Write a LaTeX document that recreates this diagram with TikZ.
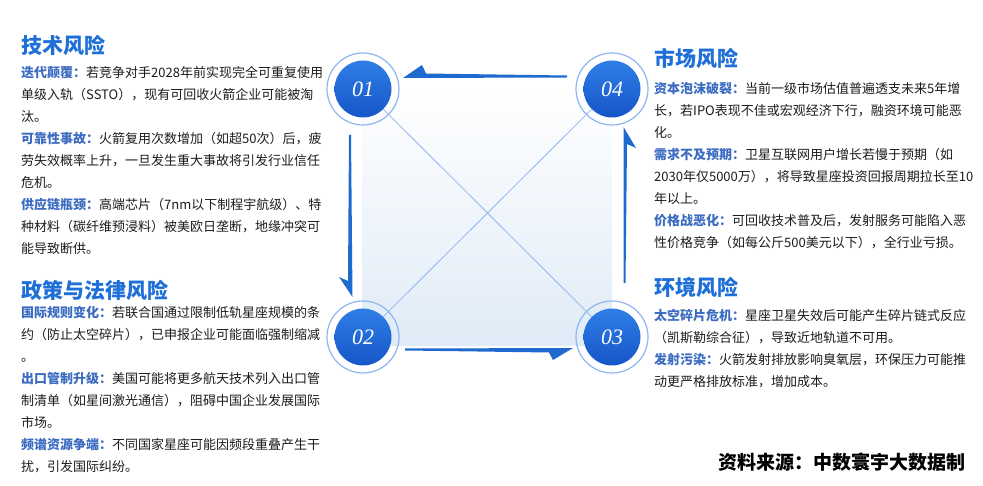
\documentclass[tikz,border=0pt]{standalone}
\usepackage{fontspec}
\setmainfont{Noto Sans CJK SC}
\newfontfamily\numfont{Liberation Serif}
\usepackage{tikz}
\usetikzlibrary{calc}
\definecolor{titleblue}{HTML}{1F6FD8}
\definecolor{labblue}{HTML}{3B6CC2}
\definecolor{txtgray}{HTML}{1C1C1C}
\definecolor{discdark}{HTML}{1656C8}
\definecolor{disclight}{HTML}{2F7EE6}
\definecolor{ringblue}{HTML}{8EB6EE}
\definecolor{arrowblue}{HTML}{1E6ACF}
\definecolor{panelblue}{HTML}{E0EBF7}
\newcommand\risklab[1]{{\bfseries\color{labblue}#1}}

\begin{document}
\begin{tikzpicture}[x=1pt,y=-1pt,
title/.style={anchor=west,inner sep=0pt,text=titleblue,font=\fontsize{21}{24}\selectfont\bfseries},
body/.style={anchor=north west,inner sep=0pt,align=left,text=txtgray,font=\fontsize{13}{22}\selectfont},
disc/.style={circle,minimum size=57pt,inner sep=0pt,top color=disclight,bottom color=discdark,text=white,font=\numfont\itshape\fontsize{22}{22}\selectfont},
ring/.style={draw=ringblue,line width=1.2pt},
diag/.style={draw=ringblue,line width=0.8pt},
flow/.style={fill=arrowblue}]
\useasboundingbox[fill=white](0,0)rectangle(983,486);
\shade[top color=white,bottom color=panelblue](362,84)rectangle(612,346);
\node[disc](c1)at(363,89){01};
\node[disc](c4)at(612,89){04};
\node[disc](c2)at(363,337){02};
\node[disc](c3)at(612,337){03};
\foreach \c in {c1,c2,c3,c4}
\draw[ring](\c.center)circle[radius=36];
\draw[diag](c1)--(c3);
\draw[diag](c4)--(c2);
\fill[flow]($(c1)+(40,-11)$)--($(c1)+(59,-24)$)--($(c1)+(63,-15.5)$)--($(c4)+(-45,-13.5)$)--($(c4)+(-45,-11.5)$)--cycle;
\fill[flow]($(c2)+(-10.5,-40)$)--($(c2)+(-24,-60)$)--($(c2)+(-15,-56)$)--($(c1)+(-14,46)$)--($(c1)+(-12,46)$)--cycle;
\fill[flow]($(c3)+(-39,11)$)--($(c3)+(-59,23)$)--($(c3)+(-63,15.5)$)--($(c2)+(42,13.5)$)--($(c2)+(42,11.5)$)--cycle;
\fill[flow]($(c4)+(11.5,38)$)--($(c4)+(24,59)$)--($(c4)+(15,55)$)--($(c3)+(13.5,-54)$)--($(c3)+(11.5,-54)$)--cycle;
\node[title](t1)at(21,45){技术风险};
\node[body](b1)at(21,66){\risklab{迭代颠覆：}若竞争对手2028年前实现完全可重复使用\\
单级入轨（SSTO），现有可回收火箭企业可能被淘\\
汰。\\
\risklab{可靠性事故：}火箭复用次数增加（如超50次）后，疲\\
劳失效概率上升，一旦发生重大事故将引发行业信任\\
危机。\\
\risklab{供应链瓶颈：}高端芯片（7nm以下制程宇航级）、特\\
种材料（碳纤维预浸料）被美欧日垄断，地缘冲突可\\
能导致断供。};
\node[title](t2)at(21,290){政策与法律风险};
\node[body](b2)at(21,306){\risklab{国际规则变化：}若联合国通过限制低轨星座规模的条\\
约（防止太空碎片），已申报企业可能面临强制缩减\\
。\\
\risklab{出口管制升级：}美国可能将更多航天技术列入出口管\\
制清单（如星间激光通信），阻碍中国企业发展国际\\
市场。\\
\risklab{频谱资源争端：}不同国家星座可能因频段重叠产生干\\
扰，引发国际纠纷。};
\node[title](t3)at(654,58){市场风险};
\node[body](b3)at(654,82){\risklab{资本泡沫破裂：}当前一级市场估值普遍透支未来5年增\\
长，若IPO表现不佳或宏观经济下行，融资环境可能恶\\
化。\\
\risklab{需求不及预期：}卫星互联网用户增长若慢于预期（如\\
2030年仅5000万），将导致星座投资回报周期拉长至10\\
年以上。\\
\risklab{价格战恶化：}可回收技术普及后，发射服务可能陷入恶\\
性价格竞争（如每公斤500美元以下），全行业亏损。};
\node[title](t4)at(654,287){环境风险};
\node[body](b4)at(654,309){\risklab{太空碎片危机：}星座卫星失效后可能产生碎片链式反应\\
（凯斯勒综合征），导致近地轨道不可用。\\
\risklab{发射污染：}火箭发射排放影响臭氧层，环保压力可能推\\
动更严格排放标准，增加成本。};
\node[anchor=east,inner sep=0pt,font=\fontsize{19}{19}\selectfont\bfseries](src)at(966,462){资料来源：中数寰宇大数据制};
\end{tikzpicture}
\end{document}
